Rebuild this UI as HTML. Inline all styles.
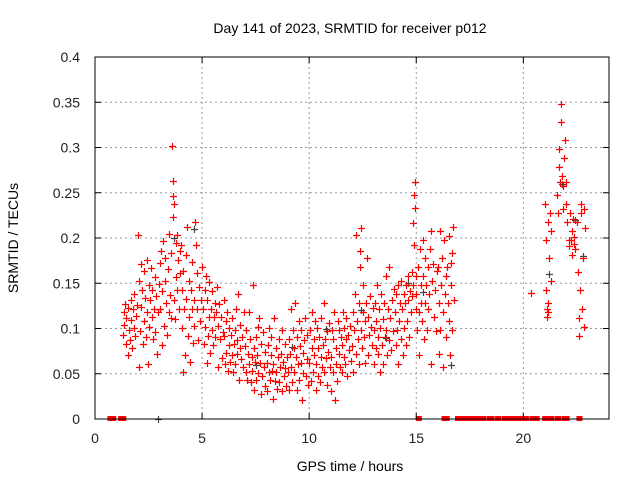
<!DOCTYPE html>
<html><head><meta charset="utf-8"><style>
body{margin:0;background:#fff;}
svg{display:block;font-family:"Liberation Sans",sans-serif;}
</style></head><body>
<svg id="chart" width="640" height="480">
<rect width="640" height="480" fill="#fff"/>
<text x="350" y="33" font-size="14" text-anchor="middle">Day 141 of 2023, SRMTID for receiver p012</text>
<text x="350" y="471" font-size="14" text-anchor="middle">GPS time / hours</text>
<text x="18" y="238" font-size="14" text-anchor="middle" transform="rotate(-90 18 238)">SRMTID / TECUs</text>
<g id="grid"></g>
<g id="marks"></g>
<rect x="95" y="57" width="514" height="362" fill="none" stroke="#000" stroke-width="1"/>
<g id="ticks"></g>
</svg>
<script>
const xTicks=[0,5,10,15,20];
const yTicks=[0,0.05,0.1,0.15,0.2,0.25,0.3,0.35,0.4];
const yTickLabels=["0","0.05","0.1","0.15","0.2","0.25","0.3","0.35","0.4"];
const redPoints=[
[1.31,0.093],[1.34,0.118],[1.37,0.104],[1.41,0.127],[1.44,0.083],[1.47,0.112],[1.52,0.071],[1.55,0.123],[1.58,0.098],[1.62,0.087],[1.66,0.132],[1.69,0.109],[1.73,0.079],[1.77,0.121],[1.81,0.101],[1.84,0.138],[1.88,0.092],[1.93,0.114],[1.97,0.126],
[2.02,0.203],[2.04,0.152],[2.07,0.058],[2.11,0.097],[2.13,0.171],[2.17,0.124],[2.21,0.143],[2.23,0.083],[2.27,0.163],[2.31,0.108],[2.33,0.134],[2.37,0.091],[2.42,0.176],[2.44,0.118],[2.48,0.061],[2.51,0.102],[2.53,0.148],[2.57,0.131],[2.61,0.167],[2.64,0.113],[2.68,0.142],[2.71,0.088],[2.74,0.121],[2.78,0.157],[2.82,0.096],[2.86,0.136],[2.89,0.072],[2.93,0.118],[2.97,0.149],
[3.02,0.172],[3.04,0.122],[3.08,0.186],[3.12,0.141],[3.15,0.082],[3.19,0.197],[3.22,0.103],[3.26,0.153],[3.29,0.178],[3.33,0.128],[3.36,0.093],[3.41,0.166],[3.44,0.118],[3.47,0.204],[3.51,0.137],[3.54,0.112],[3.57,0.183],[3.61,0.302],[3.63,0.263],[3.64,0.223],[3.66,0.246],[3.69,0.132],[3.71,0.238],[3.73,0.111],[3.76,0.194],[3.79,0.157],[3.82,0.203],[3.85,0.143],[3.88,0.176],[3.91,0.121],[3.95,0.161],[3.98,0.186],
[4.02,0.192],[4.04,0.143],[4.07,0.101],[4.11,0.052],[4.13,0.163],[4.17,0.122],[4.21,0.071],[4.24,0.181],[4.27,0.133],[4.31,0.212],[4.34,0.092],[4.37,0.152],[4.41,0.113],[4.44,0.063],[4.47,0.142],[4.51,0.122],[4.53,0.173],[4.56,0.084],[4.61,0.131],[4.64,0.103],[4.67,0.218],[4.71,0.192],[4.74,0.161],[4.78,0.121],[4.82,0.087],[4.86,0.146],[4.91,0.108],[4.95,0.131],
[5.01,0.168],[5.04,0.121],[5.08,0.083],[5.12,0.142],[5.14,0.102],[5.18,0.158],[5.21,0.062],[5.24,0.131],[5.27,0.092],[5.31,0.113],[5.34,0.151],[5.37,0.073],[5.41,0.122],[5.44,0.098],[5.47,0.141],[5.52,0.082],[5.54,0.113],[5.58,0.128],[5.62,0.091],[5.65,0.118],[5.69,0.146],[5.72,0.057],[5.76,0.103],[5.81,0.127],[5.85,0.088],[5.89,0.113],[5.93,0.067],[5.97,0.096],
[6.01,0.131],[6.04,0.092],[6.07,0.061],[6.11,0.108],[6.14,0.073],[6.18,0.118],[6.22,0.053],[6.25,0.082],[6.28,0.101],[6.32,0.063],[6.35,0.093],[6.38,0.071],[6.42,0.112],[6.45,0.052],[6.48,0.083],[6.52,0.098],[6.55,0.061],[6.58,0.122],[6.62,0.072],[6.65,0.087],[6.68,0.138],[6.72,0.043],[6.75,0.078],[6.79,0.104],[6.83,0.066],[6.87,0.091],[6.91,0.057],[6.95,0.118],
[7.01,0.081],[7.04,0.052],[7.07,0.098],[7.11,0.043],[7.13,0.072],[7.17,0.118],[7.21,0.061],[7.23,0.088],[7.27,0.041],[7.31,0.068],[7.34,0.053],[7.36,0.148],[7.41,0.079],[7.43,0.032],[7.47,0.063],[7.51,0.091],[7.53,0.043],[7.57,0.071],[7.61,0.102],[7.63,0.051],[7.67,0.112],[7.71,0.062],[7.73,0.028],[7.77,0.083],[7.81,0.047],[7.84,0.096],[7.88,0.058],[7.92,0.074],[7.96,0.036],
[8.01,0.062],[8.04,0.031],[8.07,0.082],[8.11,0.052],[8.13,0.101],[8.17,0.043],[8.21,0.071],[8.23,0.091],[8.27,0.053],[8.31,0.022],[8.33,0.061],[8.37,0.112],[8.41,0.042],[8.43,0.078],[8.47,0.052],[8.51,0.033],[8.53,0.068],[8.57,0.088],[8.61,0.041],[8.63,0.058],[8.67,0.072],[8.71,0.031],[8.73,0.098],[8.77,0.063],[8.81,0.047],[8.85,0.083],[8.89,0.056],[8.93,0.036],[8.97,0.069],
[9.01,0.052],[9.04,0.088],[9.07,0.032],[9.11,0.072],[9.13,0.122],[9.17,0.058],[9.21,0.041],[9.23,0.098],[9.27,0.078],[9.31,0.052],[9.33,0.128],[9.37,0.068],[9.41,0.032],[9.43,0.091],[9.47,0.061],[9.51,0.108],[9.53,0.043],[9.57,0.081],[9.61,0.062],[9.63,0.098],[9.67,0.021],[9.71,0.073],[9.73,0.051],[9.77,0.087],[9.81,0.112],[9.84,0.047],[9.88,0.066],[9.92,0.093],[9.96,0.038],
[10.01,0.062],[10.04,0.098],[10.07,0.042],[10.11,0.078],[10.13,0.118],[10.17,0.052],[10.21,0.088],[10.23,0.071],[10.27,0.108],[10.31,0.032],[10.33,0.061],[10.37,0.101],[10.41,0.078],[10.43,0.048],[10.47,0.091],[10.51,0.041],[10.53,0.068],[10.57,0.112],[10.61,0.058],[10.63,0.082],[10.67,0.128],[10.71,0.052],[10.73,0.088],[10.77,0.067],[10.81,0.097],[10.84,0.038],[10.88,0.074],[10.92,0.106],[10.96,0.057],
[11.01,0.031],[11.04,0.068],[11.07,0.098],[11.11,0.052],[11.13,0.088],[11.17,0.118],[11.21,0.021],[11.23,0.061],[11.27,0.078],[11.31,0.042],[11.33,0.108],[11.37,0.072],[11.41,0.098],[11.43,0.058],[11.47,0.091],[11.51,0.052],[11.53,0.082],[11.57,0.118],[11.61,0.068],[11.63,0.101],[11.67,0.061],[11.71,0.088],[11.74,0.112],[11.78,0.047],[11.83,0.093],[11.87,0.076],[11.91,0.103],[11.95,0.064],
[12.01,0.081],[12.04,0.118],[12.07,0.052],[12.11,0.098],[12.13,0.138],[12.17,0.072],[12.21,0.203],[12.23,0.108],[12.27,0.088],[12.31,0.128],[12.33,0.061],[12.37,0.168],[12.39,0.186],[12.41,0.098],[12.43,0.211],[12.47,0.078],[12.51,0.118],[12.53,0.148],[12.57,0.091],[12.61,0.062],[12.63,0.108],[12.67,0.128],[12.71,0.178],[12.73,0.071],[12.77,0.113],[12.81,0.093],[12.84,0.136],[12.88,0.102],[12.92,0.082],[12.96,0.123],
[13.01,0.098],[13.04,0.061],[13.07,0.128],[13.11,0.078],[13.13,0.108],[13.17,0.148],[13.21,0.072],[13.23,0.091],[13.27,0.121],[13.31,0.052],[13.33,0.101],[13.37,0.138],[13.41,0.082],[13.43,0.111],[13.47,0.061],[13.51,0.128],[13.53,0.091],[13.57,0.158],[13.61,0.098],[13.63,0.071],[13.67,0.121],[13.71,0.168],[13.74,0.087],[13.78,0.112],[13.83,0.076],[13.87,0.132],[13.91,0.097],[13.95,0.144],
[14.01,0.118],[14.04,0.082],[14.07,0.138],[14.11,0.098],[14.13,0.061],[14.17,0.148],[14.21,0.108],[14.23,0.128],[14.27,0.088],[14.31,0.152],[14.33,0.121],[14.37,0.071],[14.41,0.138],[14.43,0.101],[14.47,0.128],[14.51,0.082],[14.53,0.148],[14.57,0.108],[14.61,0.158],[14.63,0.131],[14.67,0.091],[14.71,0.141],[14.74,0.118],[14.78,0.162],[14.81,0.136],[14.84,0.148],[14.87,0.217],[14.89,0.192],[14.91,0.247],[14.93,0.262],[14.95,0.233],[14.97,0.158],[14.99,0.121],
[15.01,0.138],[15.04,0.098],[15.07,0.168],[15.11,0.118],[15.13,0.071],[15.17,0.188],[15.21,0.128],[15.23,0.148],[15.27,0.108],[15.31,0.198],[15.33,0.158],[15.37,0.088],[15.41,0.178],[15.43,0.128],[15.47,0.148],[15.51,0.098],[15.53,0.168],[15.57,0.121],[15.61,0.138],[15.63,0.188],[15.67,0.061],[15.71,0.208],[15.74,0.152],[15.78,0.171],[15.83,0.113],[15.87,0.143],[15.91,0.097],[15.95,0.163],
[16.01,0.168],[16.04,0.128],[16.07,0.072],[16.11,0.208],[16.13,0.098],[16.17,0.148],[16.21,0.178],[16.23,0.118],[16.27,0.058],[16.31,0.198],[16.33,0.138],[16.37,0.158],[16.41,0.091],[16.43,0.168],[16.47,0.128],[16.51,0.202],[16.53,0.108],[16.57,0.071],[16.61,0.172],[16.63,0.148],[16.66,0.098],[16.69,0.183],[16.72,0.212],[16.75,0.131],
[20.38,0.139],
[21.01,0.238],[21.04,0.198],[21.07,0.142],[21.11,0.121],[21.13,0.218],[21.17,0.128],[21.21,0.178],[21.23,0.228],[21.27,0.208],[21.29,0.152],[21.16,0.118],[21.09,0.113],
[21.58,0.248],[21.62,0.228],[21.65,0.278],[21.68,0.298],[21.72,0.262],[21.75,0.348],[21.78,0.328],[21.81,0.268],[21.84,0.232],[21.87,0.258],[21.91,0.288],[21.94,0.308],[21.97,0.238],[22.01,0.262],[22.04,0.218],
[22.11,0.198],[22.15,0.191],[22.18,0.228],[22.21,0.198],[22.25,0.181],[22.28,0.208],[22.32,0.221],[22.35,0.193],[22.38,0.201],[22.42,0.188],
[22.52,0.218],[22.55,0.162],[22.58,0.112],[22.61,0.092],[22.64,0.142],[22.67,0.238],[22.71,0.228],[22.74,0.121],[22.77,0.178],[22.81,0.102],[22.84,0.232],[22.87,0.211]
];
const darkTimes=[3.7,4.6,7.5,9.2,10.8,12.4,13.6,14.6,15.3,16.6,21.2,21.8,22.4,22.8];
const darkValues=[0.20,0.21,0.06,0.08,0.10,0.12,0.09,0.15,0.14,0.06,0.16,0.26,0.22,0.18];
const zeroTimes=[0.72,0.85,1.22,1.32,15.12,16.32,16.42,16.95,17.12,17.22,17.32,17.42,17.52,17.62,17.72,17.82,17.92,18.02,18.12,18.42,18.52,18.82,19.12,19.22,19.32,19.42,19.52,19.62,19.72,19.82,19.92,20.02,20.12,20.42,20.52,20.62,21.02,21.12,21.22,21.32,21.62,21.92,22.02,22.62];
const darkZeroTimes=[2.95];

const X0=95,X1=609,Y0=419,Y1=57,XMAX=24,YMAX=0.4;
const xs=t=>X0+(X1-X0)*t/XMAX;
const ys=v=>Y0-(Y0-Y1)*v/YMAX;
const NS="http://www.w3.org/2000/svg";
const grid=document.getElementById('grid'),marks=document.getElementById('marks'),ticks=document.getElementById('ticks');
function mk(tag,attrs,parent){const e=document.createElementNS(NS,tag);for(const k in attrs)e.setAttribute(k,attrs[k]);parent.appendChild(e);return e;}
xTicks.forEach(t=>{
  const x=xs(t);
  if(t>0){const g=mk('line',{x1:x,x2:x,y1:Y0,y2:Y1,stroke:'#999','stroke-dasharray':'2,3'},grid);
  
  }
  mk('line',{x1:x,x2:x,y1:Y0,y2:Y0-6,stroke:'#000'},ticks);
  mk('line',{x1:x,x2:x,y1:Y1,y2:Y1+6,stroke:'#000'},ticks);
  const l=mk('text',{x:x,y:Y0+24,'font-size':14,'text-anchor':'middle',fill:'#222'},ticks);
  l.textContent=t;
  
  
});
yTicks.forEach((v,i)=>{
  const y=ys(v);
  if(v>0&&v<YMAX){const g=mk('line',{x1:X0,x2:X1,y1:y,y2:y,stroke:'#999','stroke-dasharray':'2,3'},grid);
  
  }
  mk('line',{x1:X0,x2:X0+6,y1:y,y2:y,stroke:'#000'},ticks);
  mk('line',{x1:X1,x2:X1-6,y1:y,y2:y,stroke:'#000'},ticks);
  const l=mk('text',{x:X0-15,y:y+5,'font-size':14,'text-anchor':'end',fill:'#222'},ticks);
  l.textContent=yTickLabels[i];
  
  
});
function plus(t,v,col,name){
  const x=Math.round(xs(t))+0.5,y=Math.round(ys(v))+0.5;
  const p=mk('path',{d:`M${x-3.5},${y}H${x+3.5}M${x},${y-3.5}V${y+3.5}`,stroke:col,'stroke-width':1.2,fill:'none'},marks);
  
  
}
function zeroMark(t,col,name){
  const x=xs(t);
  const r=mk('rect',{x:x-3,y:Y0-3,width:6,height:5,fill:col},marks);
  
  
}
darkTimes.forEach((t,i)=>plus(t,darkValues[i],'#444','dark-point'));
redPoints.forEach(p=>plus(p[0],p[1],'#f00','srmtid-point'));
zeroTimes.forEach(t=>zeroMark(t,'#f00','zero-point'));
darkZeroTimes.forEach(t=>plus(t,0,'#444','dark-zero-point'));
</script>
</body></html>
